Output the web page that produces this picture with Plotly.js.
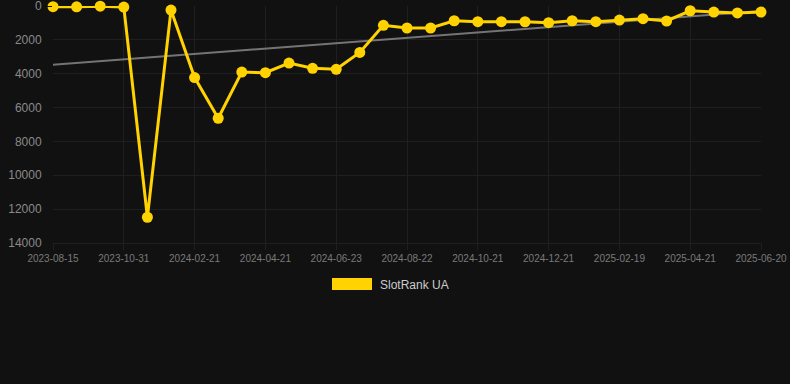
<!DOCTYPE html>
<html>
<head>
<meta charset="utf-8">
<script src="https://cdn.plot.ly/plotly-3.0.1.min.js"></script>
<style>
html,body{margin:0;padding:0;background:#111111;}
#chart{width:790px;height:384px;}
</style>
</head>
<body>
<div id="chart"></div>
<script>
const categories = [
  "2023-08-15","2023-09-10","2023-10-05","2023-10-31","2023-12-08","2024-01-15",
  "2024-02-21","2024-03-11","2024-04-01","2024-04-21","2024-05-12","2024-06-02",
  "2024-06-23","2024-07-13","2024-08-02","2024-08-22","2024-09-11","2024-10-01",
  "2024-10-21","2024-11-10","2024-12-01","2024-12-21","2025-01-10","2025-01-30",
  "2025-02-19","2025-03-11","2025-03-31","2025-04-21","2025-05-11","2025-05-31",
  "2025-06-20"
];
const slotRankUA = [
  40, 50, 10, 60, 12480, 240,
  4230, 6630, 3900, 3940, 3370, 3680,
  3740, 2740, 1140, 1300, 1300, 870,
  925, 925, 930, 985, 870, 925,
  830, 750, 885, 280, 355, 410,
  355
];
const trendX = [categories[0], categories[categories.length - 1]];
const trendY = [3470, 300];
const tickLabels = categories.filter((c, i) => i % 3 === 0);
const yTicks = [0, 2000, 4000, 6000, 8000, 10000, 12000, 14000];
const seriesName = "SlotRank UA";

const yellow = "#FFD200";
const gridColor = "#1f1f1f";

const traces = [
  {
    x: trendX, y: trendY, type: "scatter", mode: "lines",
    line: {color: "rgba(150,150,150,0.75)", width: 2},
    hoverinfo: "skip", showlegend: false
  },
  {
    x: categories, y: slotRankUA, type: "scatter", mode: "lines+markers",
    name: seriesName,
    line: {color: yellow, width: 3},
    marker: {color: yellow, size: 11},
    cliponaxis: false, showlegend: false
  }
];

const layout = {
  width: 790, height: 384,
  paper_bgcolor: "#111111", plot_bgcolor: "#111111",
  margin: {l: 53, r: 29, t: 6, b: 141},
  font: {family: "Liberation Sans, Arial, sans-serif", color: "#888888"},
  showlegend: false,
  xaxis: {
    type: "category",
    categoryorder: "array", categoryarray: categories,
    range: [0, categories.length - 1],
    tickmode: "array", tickvals: tickLabels, ticktext: tickLabels,
    tickfont: {size: 10, color: "#7a7a7a"},
    showgrid: true, gridcolor: gridColor, gridwidth: 1,
    zeroline: false, showline: true, linecolor: gridColor,
    ticks: "outside", ticklen: 6, tickcolor: gridColor,
    ticklabeloverflow: "allow"
  },
  yaxis: {
    range: [14000.5, -0.5],
    tickmode: "array", tickvals: yTicks, ticktext: yTicks.map(String),
    tickfont: {size: 12, color: "#8a8a8a"},
    showgrid: true, gridcolor: gridColor, gridwidth: 1,
    zeroline: false, showline: false,
    ticks: "outside", ticklen: 8, tickcolor: "#111111",
    ticklabeloverflow: "allow"
  },
  shapes: [{
    type: "rect", xref: "paper", yref: "paper",
    x0: (332 - 53) / 708, x1: (372 - 53) / 708,
    y0: (243 - 278) / 237, y1: (243 - 290) / 237,
    fillcolor: yellow, line: {width: 0}
  }],
  annotations: [{
    xref: "paper", yref: "paper",
    x: (378 - 53) / 708, y: (243 - 284.5) / 237,
    xanchor: "left", yanchor: "middle",
    text: seriesName, showarrow: false,
    font: {size: 12, color: "#cccccc"}
  }],
  hovermode: false
};

Plotly.newPlot("chart", traces, layout, {displayModeBar: false, staticPlot: true});
</script>
</body>
</html>
